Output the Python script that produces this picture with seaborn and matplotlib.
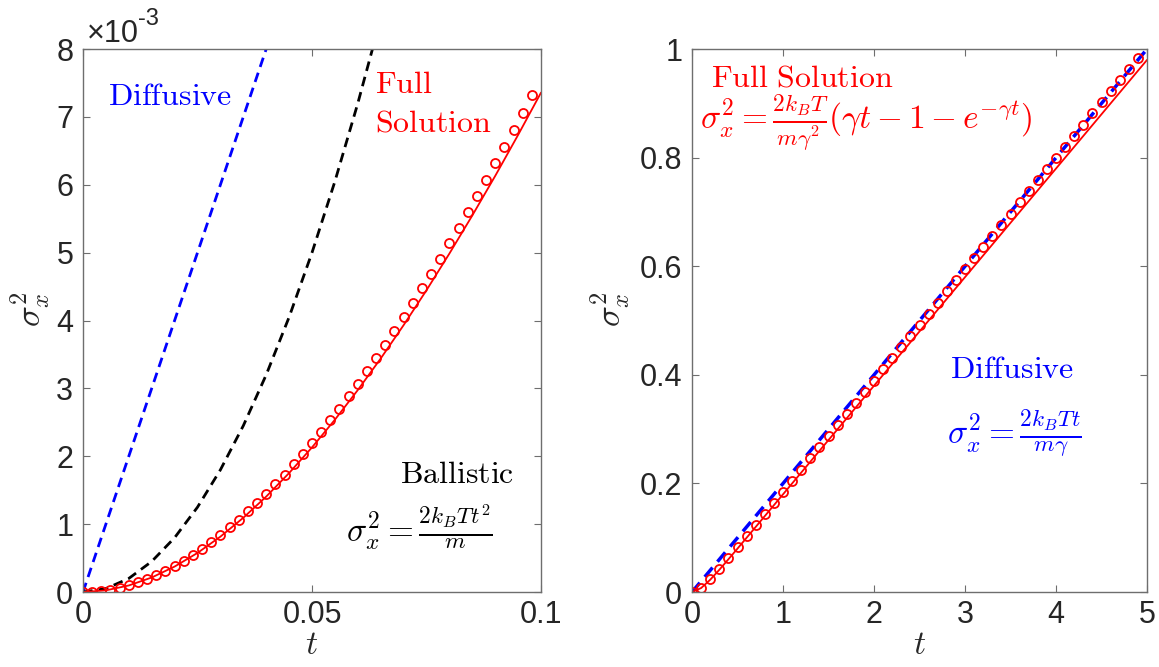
import matplotlib
matplotlib.use("Agg")
import matplotlib.pyplot as plt
import seaborn as sns

# ---------------- data ----------------
# short-time window (sigma^2 in units of 1e-3)
t_sim_short = [0.002 * k for k in range(50)]
sim_short = [0.0, 0.004, 0.016, 0.036, 0.064, 0.100, 0.143, 0.193, 0.250, 0.315,
             0.386, 0.464, 0.549, 0.640, 0.737, 0.841, 0.951, 1.066, 1.188, 1.316,
             1.449, 1.587, 1.731, 1.880, 2.035, 2.195, 2.359, 2.529, 2.703, 2.882,
             3.066, 3.254, 3.446, 3.643, 3.844, 4.050, 4.259, 4.473, 4.690, 4.911,
             5.136, 5.365, 5.597, 5.833, 6.073, 6.315, 6.561, 6.811, 7.064, 7.319]

t_curve_short = [0.0, 0.005, 0.01, 0.015, 0.02, 0.025, 0.03, 0.035, 0.04, 0.045, 0.05,
                 0.055, 0.06, 0.065, 0.07, 0.075, 0.08, 0.085, 0.09, 0.095, 0.1]
full_short = [0.0, 0.0246, 0.0967, 0.214, 0.375, 0.576, 0.816, 1.094, 1.406, 1.753, 2.131,
              2.539, 2.976, 3.441, 3.932, 4.447, 4.987, 5.548, 6.131, 6.735, 7.358]
ballistic_short = [0.0, 0.05, 0.2, 0.45, 0.8, 1.25, 1.8, 2.45, 3.2, 4.05, 5.0,
                   6.05, 7.2, 8.45, 9.8, 11.25, 12.8, 14.45, 16.2, 18.05, 20.0]
t_diff_short = [0.0, 0.1]
diff_short = [0.0, 20.0]

# long-time window
t_sim_long = [0.1 * k for k in range(50)]
sim_long = [0.0, 0.0075, 0.0233, 0.0420, 0.0619, 0.0821, 0.1026, 0.1230, 0.1435, 0.1640,
            0.1845, 0.2050, 0.2255, 0.2460, 0.2665, 0.2870, 0.3075, 0.3280, 0.3485, 0.3690,
            0.3895, 0.4100, 0.4305, 0.4510, 0.4715, 0.4920, 0.5125, 0.5330, 0.5535, 0.5740,
            0.5945, 0.6150, 0.6355, 0.6560, 0.6765, 0.6970, 0.7175, 0.7380, 0.7585, 0.7790,
            0.7995, 0.8200, 0.8405, 0.8610, 0.8815, 0.9020, 0.9225, 0.9430, 0.9635, 0.9840]
t_curve_long = [0.0, 0.1, 0.2, 0.3, 0.4, 0.5, 0.7, 1.0, 2.0, 3.0, 4.0, 5.0]
full_long = [0.0, 0.00736, 0.0227, 0.0410, 0.0604, 0.0801, 0.1200, 0.180, 0.380, 0.580, 0.780, 0.980]
t_diff_long = [0.0, 5.0]
diff_long = [0.0, 1.0]

x_ticks_short = [0, 0.05, 0.1]
x_tick_labels_short = ["0", "0.05", "0.1"]
y_ticks_short = [0, 1, 2, 3, 4, 5, 6, 7, 8]
x_ticks_long = [0, 1, 2, 3, 4, 5]
y_ticks_long = [0, 0.2, 0.4, 0.6, 0.8, 1.0]
y_tick_labels_long = ["0", "0.2", "0.4", "0.6", "0.8", "1"]

# ---------------- style ----------------
sns.set_theme(style="white")
plt.rcParams["font.family"] = ["Liberation Sans", "DejaVu Sans"]
plt.rcParams["mathtext.fontset"] = "cm"

AX_COLOR = "#262626"
SPINE_COLOR = "#6e6e6e"
TICK_FS = 22
TEXT_FS = 23
EQ_FS = 24
LABEL_FS = 24

fig = plt.figure(figsize=(11.59, 6.67), dpi=100)
ax1 = fig.add_axes([0.0716, 0.1124, 0.3952, 0.8141])
ax2 = fig.add_axes([0.5971, 0.1124, 0.3926, 0.8141])

def style_axes(ax):
    for s in ax.spines.values():
        s.set_visible(True)
        s.set_color(SPINE_COLOR)
        s.set_linewidth(1.0)
    ax.tick_params(direction="in", length=5, width=0.8, color=SPINE_COLOR,
                   top=True, right=True, bottom=True, left=True,
                   labelsize=TICK_FS, labelcolor=AX_COLOR)
    ax.tick_params(axis="x", pad=6)
    ax.tick_params(axis="y", pad=7)
    ax.grid(False)

dash_style = (0, (3.5, 2.2))
marker_kw = dict(color="red", marker="o", linestyle="", markersize=6.5,
                 markerfacecolor="none", markeredgecolor="red", markeredgewidth=1.3)

# ---------------- left panel ----------------
sns.lineplot(x=t_diff_short, y=diff_short, ax=ax1, color="blue", lw=2, linestyle=dash_style)
sns.lineplot(x=t_curve_short, y=ballistic_short, ax=ax1, color="black", lw=2, linestyle=dash_style)
sns.lineplot(x=t_curve_short, y=full_short, ax=ax1, color="red", lw=1.3)
sns.lineplot(x=t_sim_short, y=sim_short, ax=ax1, **marker_kw)

ax1.set_xlim(0, 0.1)
ax1.set_ylim(0, 8)
ax1.set_xticks(x_ticks_short)
ax1.set_xticklabels(x_tick_labels_short)
ax1.set_yticks(y_ticks_short)
style_axes(ax1)
ax1.set_xlabel(r"$t$", fontsize=LABEL_FS, color=AX_COLOR)
ax1.set_ylabel(r"$\sigma_x^2$", fontsize=LABEL_FS + 1, color=AX_COLOR)
ax1.xaxis.set_label_coords(0.5, -0.070)
ax1.yaxis.set_label_coords(-0.068, 0.52)

ax1.text(0.009, 1.013, "×10", transform=ax1.transAxes, fontsize=TICK_FS, color=AX_COLOR,
         ha="left", va="baseline")
ax1.text(0.12, 1.045, "-3", transform=ax1.transAxes, fontsize=17, color=AX_COLOR,
         ha="left", va="baseline")

ax1.text(0.0055, 7.29, r"$\mathrm{Diffusive}$", color="blue", fontsize=TEXT_FS, va="center")
ax1.text(0.0638, 7.47, r"$\mathrm{Full}$", color="red", fontsize=TEXT_FS, va="center")
ax1.text(0.0638, 6.90, r"$\mathrm{Solution}$", color="red", fontsize=TEXT_FS, va="center")
ax1.text(0.0817, 1.72, r"$\mathrm{Ballistic}$", color="black", fontsize=TEXT_FS,
         ha="center", va="center")
ax1.text(0.0735, 0.96, r"$\sigma_x^2 = \frac{2k_BTt^2}{m}$", color="black", fontsize=EQ_FS,
         ha="center", va="center")

# ---------------- right panel ----------------
sns.lineplot(x=t_diff_long, y=diff_long, ax=ax2, color="blue", lw=2.5, linestyle=dash_style)
sns.lineplot(x=t_curve_long, y=full_long, ax=ax2, color="red", lw=1.3)
sns.lineplot(x=t_sim_long, y=sim_long, ax=ax2, **marker_kw)

ax2.set_xlim(0, 5)
ax2.set_ylim(0, 1)
ax2.set_xticks(x_ticks_long)
ax2.set_yticks(y_ticks_long)
ax2.set_yticklabels(y_tick_labels_long)
style_axes(ax2)
ax2.set_xlabel(r"$t$", fontsize=LABEL_FS, color=AX_COLOR)
ax2.set_ylabel(r"$\sigma_x^2$", fontsize=LABEL_FS + 1, color=AX_COLOR)
ax2.xaxis.set_label_coords(0.5, -0.070)
ax2.yaxis.set_label_coords(-0.132, 0.52)

ax2.text(0.21, 0.945, r"$\mathrm{Full\ Solution}$", color="red", fontsize=TEXT_FS, va="center")
ax2.text(0.09, 0.866, r"$\sigma_x^2 = \frac{2k_BT}{m\gamma^2}(\gamma t - 1 - e^{-\gamma t})$",
         color="red", fontsize=EQ_FS, va="center")
ax2.text(3.52, 0.409, r"$\mathrm{Diffusive}$", color="blue", fontsize=TEXT_FS,
         ha="center", va="center")
ax2.text(3.54, 0.293, r"$\sigma_x^2 = \frac{2k_BTt}{m\gamma}$", color="blue", fontsize=EQ_FS,
         ha="center", va="center")

fig.savefig("out.png", dpi=100, facecolor="white")
